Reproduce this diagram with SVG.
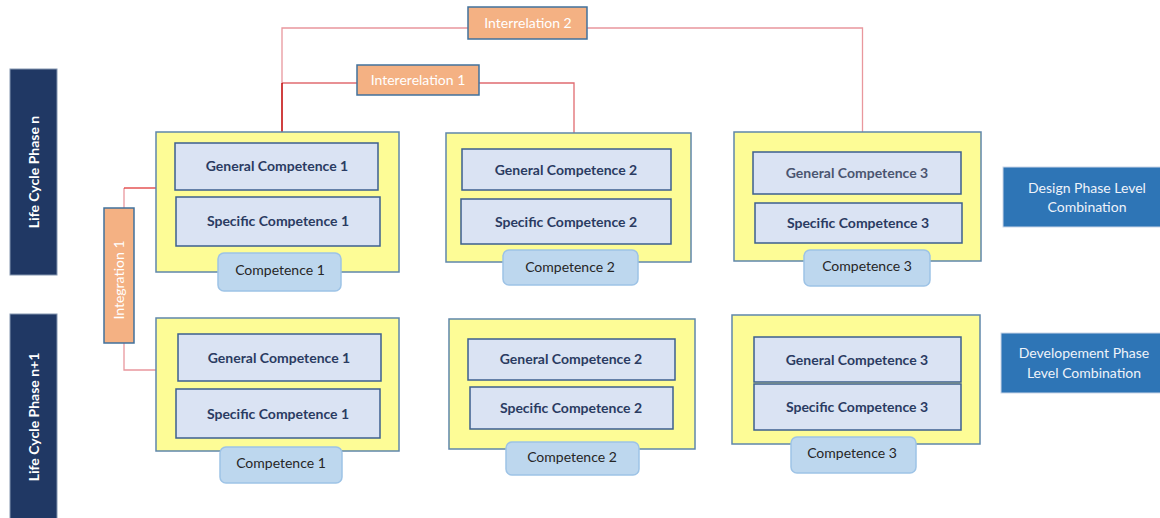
<svg xmlns="http://www.w3.org/2000/svg" width="1160" height="518" viewBox="0 0 1160 518">
<style>
.bar{fill:#203864;stroke:#8496b0;stroke-width:1}
.bart{font-family:Lato,"Open Sans",sans-serif;font-size:14px;font-weight:bold;fill:#ffffff;text-anchor:middle}
.yel{fill:#fdfc96;stroke:#5f87aa;stroke-width:1.5}
.in{fill:#dae3f3;stroke:#3c5f8f;stroke-width:1.5}
.int{font-family:Lato,"Open Sans",sans-serif;font-size:14px;font-weight:bold;fill:#2a3b62;text-anchor:middle}
.pill{fill:#bdd7ee;stroke:#9dc3e6;stroke-width:1.5}
.pt{font-family:Lato,"Open Sans",sans-serif;font-size:14px;fill:#262626;text-anchor:middle}
.org{fill:#f4b183;stroke:#41719c;stroke-width:1.5}
.ot{font-family:Lato,"Open Sans",sans-serif;font-size:14px;fill:#ffffff;text-anchor:middle}
.lvl{fill:#2e75b6;stroke:#c9d6e8;stroke-width:1}
.lt{font-family:Lato,"Open Sans",sans-serif;font-size:14px;fill:#eef3fa;text-anchor:middle}
.c1{fill:none;stroke:#e9979d;stroke-width:1.3}
.c2{fill:none;stroke:#e06b70;stroke-width:1.3}
.c3{fill:none;stroke:#c00000;stroke-width:1.5}
</style>
<rect width="1160" height="518" fill="#ffffff"/>
<g id="connectors">
<polyline class="c1" points="282,83 282,28 468,28"/>
<polyline class="c1" points="587,28 862.5,28 862.5,132"/>
<polyline class="c2" points="282,83 357,83"/>
<polyline class="c2" points="479,83 574,83 574,133"/>
<line class="c3" x1="282" y1="83" x2="282" y2="132"/>
<polyline class="c1" points="124,208 124,188"/>
<line x1="124" y1="188" x2="156" y2="188" stroke="#e03a3a" stroke-width="1.3"/>
<polyline class="c1" points="124,343 124,370 156,370"/>
</g>
<g id="bar-n"><rect class="bar" x="10" y="69" width="47" height="206"/><text class="bart" transform="translate(39,172) rotate(-90)">Life Cycle Phase n</text></g>
<g id="bar-n1"><rect class="bar" x="10" y="314" width="47" height="210"/><text class="bart" transform="translate(39,417) rotate(-90)">Life Cycle Phase n+1</text></g>
<g id="interrelation2"><rect class="org" x="468" y="7" width="119" height="32"/><text class="ot" x="528" y="28">Interrelation 2</text></g>
<g id="interrelation1"><rect class="org" x="357" y="65" width="122" height="30"/><text class="ot" x="418" y="85">Intererelation 1</text></g>
<g id="integration1"><rect class="org" x="104" y="208" width="30" height="135"/><text class="ot" transform="translate(124,280) rotate(-90)">Integration 1</text></g>
<g id="comp1-n">
<rect class="yel" x="156" y="132" width="243" height="140"/>
<rect class="in" x="175" y="143" width="203" height="47"/><text class="int" x="277" y="171">General Competence 1</text>
<rect class="in" x="176" y="197" width="204" height="49"/><text class="int" x="278" y="226">Specific Competence 1</text>
<rect class="pill" x="218" y="253" width="123" height="38" rx="6"/><text class="pt" x="280" y="275">Competence 1</text>
</g>
<g id="comp2-n">
<rect class="yel" x="446" y="133" width="245" height="129"/>
<rect class="in" x="462" y="149" width="209" height="41"/><text class="int" x="566" y="174.5">General Competence 2</text>
<rect class="in" x="461" y="199" width="210" height="45"/><text class="int" x="566" y="226.5">Specific Competence 2</text>
<rect class="pill" x="503" y="250" width="135" height="35" rx="6"/><text class="pt" x="570" y="272">Competence 2</text>
</g>
<g id="comp3-n">
<rect class="yel" x="734" y="132" width="247" height="129"/>
<rect class="in" x="753" y="152" width="208" height="42"/><text class="int" x="857" y="178" style="fill:#4a5570">General Competence 3</text>
<rect class="in" x="755" y="203" width="207" height="40"/><text class="int" x="858" y="228">Specific Competence 3</text>
<rect class="pill" x="804" y="250" width="126" height="36" rx="6"/><text class="pt" x="867" y="271">Competence 3</text>
</g>
<g id="comp1-n1">
<rect class="yel" x="156" y="318" width="243" height="133"/>
<rect class="in" x="178" y="334" width="203" height="47"/><text class="int" x="279" y="362.5">General Competence 1</text>
<rect class="in" x="176" y="389" width="204" height="49"/><text class="int" x="278" y="418.5">Specific Competence 1</text>
<rect class="pill" x="220" y="447" width="122" height="36" rx="6"/><text class="pt" x="281" y="468">Competence 1</text>
</g>
<g id="comp2-n1">
<rect class="yel" x="449" y="319" width="246" height="130"/>
<rect class="in" x="468" y="339" width="207" height="41"/><text class="int" x="571" y="364">General Competence 2</text>
<rect class="in" x="470" y="387" width="203" height="42"/><text class="int" x="571" y="413">Specific Competence 2</text>
<rect class="pill" x="506" y="442" width="133" height="33" rx="6"/><text class="pt" x="572" y="462">Competence 2</text>
</g>
<g id="comp3-n1">
<rect class="yel" x="732" y="315" width="248" height="129"/>
<rect class="in" x="754" y="337" width="207" height="45"/><text class="int" x="857" y="364.5">General Competence 3</text>
<rect class="in" x="754" y="384" width="207" height="46"/><text class="int" x="857" y="412">Specific Competence 3</text>
<rect class="pill" x="791" y="437" width="125" height="36" rx="6"/><text class="pt" x="852" y="458">Competence 3</text>
</g>
<g id="design-level"><rect class="lvl" x="1003" y="167" width="170" height="60"/><text class="lt" x="1087" y="193">Design Phase Level</text><text class="lt" x="1087" y="212">Combination</text></g>
<g id="dev-level"><rect class="lvl" x="1001" y="333" width="170" height="60"/><text class="lt" x="1084" y="358">Developement Phase</text><text class="lt" x="1084" y="378">Level Combination</text></g>
</svg>
